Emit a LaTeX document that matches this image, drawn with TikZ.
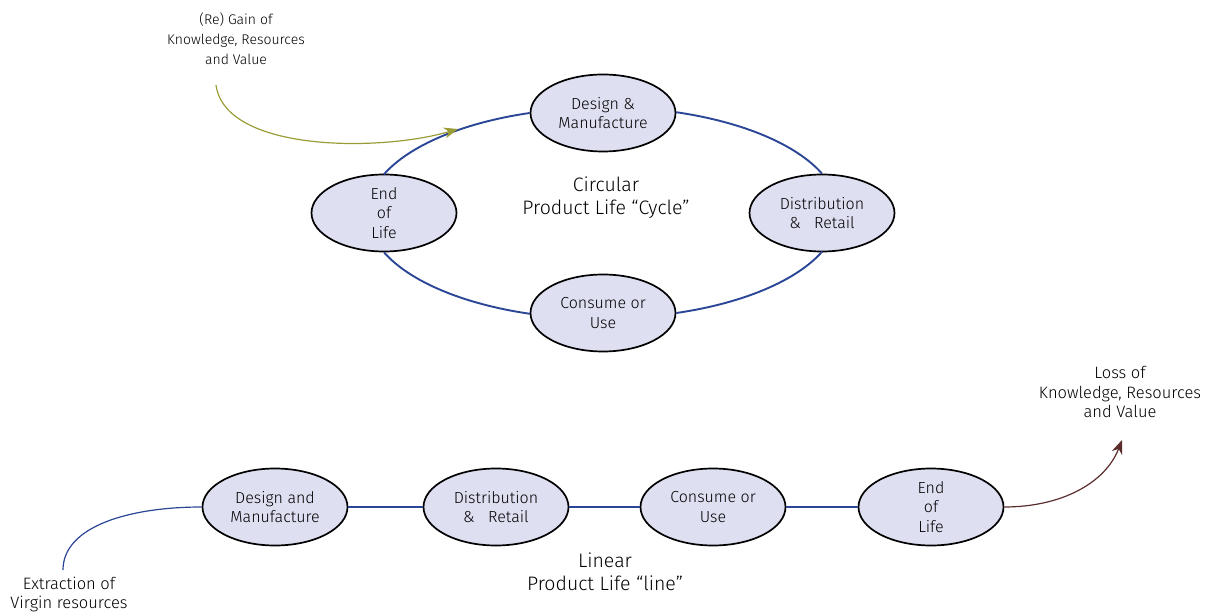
\documentclass[tikz,border=0pt]{standalone}
\usepackage{fontspec}
\setmainfont{Fira Sans Light}
\usetikzlibrary{shapes.geometric,arrows.meta}
\definecolor{stagefill}{HTML}{DEDFF1}
\definecolor{flowblue}{HTML}{2B4696}
\definecolor{gainolive}{HTML}{9A9C36}
\definecolor{lossbrown}{HTML}{5B2C2C}
\tikzset{
  stage/.style={ellipse, draw=black, line width=1.7pt, fill=stagefill,
    minimum width=145pt, minimum height=77pt, inner sep=0pt, align=center,
    font=\fontsize{16}{19.5}\selectfont},
  flow/.style={draw=flowblue, line width=1.9pt},
  cyclearc/.style={flow, x radius=235.3pt, y radius=105.2pt},
  note/.style={align=center, font=\fontsize{16.5}{19.5}\selectfont},
  gainnote/.style={align=center, font=\fontsize{14}{20}\selectfont},
  title/.style={align=center, font=\fontsize{19.5}{23}\selectfont},
}
\begin{document}
\begin{tikzpicture}[x=1pt,y=1pt]
\useasboundingbox (0,0) rectangle (1210,614);

% circular product life cycle
\node[stage] (cdm) at (603,501) {Design \&\\Manufacture};
\node[stage] (cdr) at (822,401) {Distribution\\\&~~~Retail};
\node[stage] (ccu) at (603,301) {Consume or\\Use};
\node[stage] (ceol) at (384,401) {End\\of\\Life};
\node[title] (ctitle) at (606,416) {Circular\\Product Life “Cycle”};

\draw[cyclearc] (cdm.west) arc[start angle=108.1, end angle=158.5];
\draw[cyclearc] (ceol.south) arc[start angle=201.5, end angle=251.9];
\draw[cyclearc] (ccu.east) arc[start angle=288.1, end angle=338.5];
\draw[cyclearc] (cdr.north) arc[start angle=21.5, end angle=71.9];

% gain arrow into the cycle
\node[gainnote] (gain) at (236,575) {(Re) Gain of\\Knowledge, Resources\\and Value};
\coordinate (gainstart) at (216,529);
\coordinate (gaintip) at (458,485);
\draw[draw=gainolive, line width=1.2pt, -{Stealth[length=14pt, width=11pt]}]
  (gainstart) .. controls (225,462) and (380,462) .. (gaintip);

% linear product life line
\node[stage] (ldm) at (275,107) {Design and\\Manufacture};
\node[stage] (ldr) at (496,107) {Distribution\\\&~~~Retail};
\node[stage] (lcu) at (713,107) {Consume or\\Use};
\node[stage] (leol) at (931,107) {End\\of\\Life};
\node[title] (ltitle) at (605,42) {Linear\\Product Life “line”};

\draw[flow] (ldm) -- (ldr);
\draw[flow] (ldr) -- (lcu);
\draw[flow] (lcu) -- (leol);

% extraction feeding the line
\node[note] (extract) at (69,19.5) {Extraction of\\Virgin resources};
\coordinate (extractstart) at (63,44);
\draw[draw=flowblue, line width=1.2pt]
  (extractstart) .. controls (63,88) and (130,107) .. (ldm.west);

% loss leaving the line
\node[note] (loss) at (1120,222) {Loss of\\Knowledge, Resources\\and Value};
\coordinate (losstip) at (1122,174);
\draw[draw=lossbrown, line width=1.2pt, -{Stealth[length=14pt, width=11pt]}]
  (leol.east) .. controls (1060,107) and (1105,130) .. (losstip);
\end{tikzpicture}
\end{document}
